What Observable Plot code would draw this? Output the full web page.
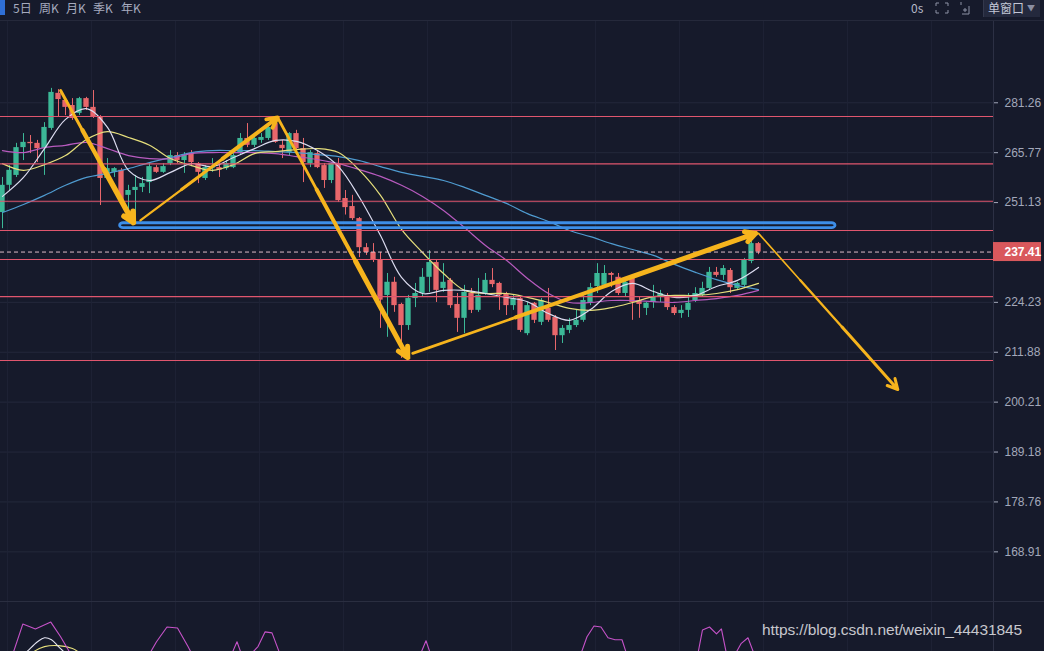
<!DOCTYPE html>
<html><head><meta charset="utf-8">
<script src="https://cdn.jsdelivr.net/npm/d3@7"></script>
<script src="https://cdn.jsdelivr.net/npm/@observablehq/plot@0.6"></script>
<style>
html,body{margin:0;padding:0;background:#161a2b;width:1044px;height:651px;overflow:hidden;}
#bar{position:relative;height:20px;border-bottom:1px solid #25293b;color:#a6abbf;font-size:12px;font-family:"Noto Sans CJK SC","Noto Sans",sans-serif;}
#bar .t{position:absolute;top:1px;line-height:14px;white-space:nowrap}
#bar .sel{position:absolute;left:0;top:0;width:5px;height:15px;background:#2f6fd6;overflow:hidden}
#bar .win{position:absolute;left:983px;top:0;width:57px;height:17px;background:#24293d;border-left:1px solid #33384c;color:#c3c7d6;font-size:12px;line-height:16px;padding-left:4px;box-sizing:border-box}
#bar .win span{font-size:8px;color:#8a8fa3;margin-left:3px;vertical-align:2px}
#main svg,#ind svg{display:block}
#ind{border-top:1px solid #2a2e40;position:relative}
#wm{position:absolute;left:762px;top:621px;font:15.5px "Liberation Sans",Arial,sans-serif;color:rgba(225,225,230,0.88);white-space:nowrap;letter-spacing:-0.1px}
</style></head>
<body>
<div id="bar">
  <div class="sel"></div>
  <span class="t" style="left:13px">5日</span>
  <span class="t" style="left:39px">周K</span>
  <span class="t" style="left:66px">月K</span>
  <span class="t" style="left:93px">季K</span>
  <span class="t" style="left:121px">年K</span>
  <span class="t" style="left:911px;color:#b5b9c8">0s</span>
  <svg style="position:absolute;left:935px;top:2px" width="14" height="12" viewBox="0 0 14 12" fill="none" stroke="#8d92a6" stroke-width="1">
    <path d="M1 1h3M1 1v3M13 1h-3M13 1v3M1 11h3M1 11v-3M13 11h-3M13 11v-3"/>
  </svg>
  <svg style="position:absolute;left:957px;top:1px" width="14" height="14" viewBox="0 0 14 14" fill="none" stroke="#8d92a6" stroke-width="1">
    <path d="M4 1v3M12 13H5M12 13V5M6 9h4M8 7v4"/>
  </svg>
  <div class="win">单窗口<span>▼</span></div>
</div>
<div id="main"></div>
<div id="ind"></div>
<div id="wm">https://blog.csdn.net/weixin_44431845</div>
<script>
// ---------- data ----------
const opens = [
 248.3,256.1,259.0,267.3,268.9,268.6,267.0,273.2,284.3,282.0,
 280.4,277.9,282.6,279.8,276.6,258.1,259.9,260.5,253.2,254.6,
 255.5,256.9,261.3,259.9,262.5,264.9,263.4,265.5,262.5,258.1,
 261.0,261.3,261.0,261.3,265.5,270.1,268.0,269.5,270.1,274.7,
 268.0,265.8,271.6,267.0,262.5,265.5,261.9,257.5,262.5,252.3,
 250.0,246.6,238.6,237.3,235.2,226.0,229.4,223.7,218.4,225.2,
 226.5,230.7,234.6,227.8,229.9,223.7,220.2,226.5,222.2,226.5,
 229.9,229.1,226.5,223.4,225.2,216.4,224.0,219.2,222.7,220.4,
 215.9,217.2,218.4,219.7,224.2,228.3,228.6,231.7,230.7,226.5,
 230.4,224.7,222.7,224.2,225.5,226.0,222.9,221.4,222.2,224.7,
 226.0,227.8,232.0,231.2,232.5,227.8,228.6,234.9,239.7];
const highs = [
 258.4,261.9,268.6,271.6,271.0,269.5,275.0,285.9,285.5,282.6,
 282.6,283.0,283.0,285.2,277.2,264.0,261.3,261.0,256.1,259.0,
 258.4,262.5,261.9,262.5,266.4,265.8,265.8,266.4,262.8,261.9,
 264.0,262.8,263.4,265.5,271.6,274.7,270.4,271.6,274.7,276.6,
 269.5,271.9,272.6,270.1,266.4,266.4,262.5,262.8,264.0,254.6,
 253.2,246.9,239.7,239.7,237.3,231.7,230.7,224.0,226.0,229.1,
 233.0,237.8,235.2,234.3,230.4,226.5,228.6,227.8,230.4,231.7,
 233.0,229.4,226.8,226.0,225.5,224.2,224.2,225.2,227.8,220.9,
 218.4,220.2,222.2,226.0,229.1,234.3,233.8,232.0,231.7,230.4,
 230.7,225.5,224.2,228.6,227.3,226.5,223.4,223.4,226.5,228.0,
 229.4,233.3,233.3,233.8,233.0,229.4,235.7,240.6,240.0];
const lows = [
 243.8,254.6,258.4,263.4,265.5,262.8,259.0,272.6,276.6,277.2,
 275.7,277.2,278.8,276.3,250.3,257.5,258.4,251.2,246.1,245.5,
 254.0,253.7,259.6,259.6,261.9,262.5,259.6,261.9,256.6,257.5,
 259.9,258.4,260.5,261.0,264.9,267.3,267.3,268.6,269.5,268.6,
 264.0,264.9,265.5,256.9,261.3,261.0,255.2,256.6,251.2,247.6,
 246.1,235.9,236.5,234.6,217.7,215.5,221.7,210.4,217.2,222.9,
 225.5,226.8,224.2,226.8,222.7,216.7,216.4,221.4,221.7,226.0,
 228.0,222.2,220.9,222.2,216.7,215.9,218.9,218.4,219.2,212.3,
 214.0,216.4,217.9,219.2,223.4,226.5,227.8,228.0,226.0,225.5,
 219.7,220.2,220.9,222.7,224.2,222.2,220.9,220.2,220.4,224.2,
 225.5,227.3,230.7,229.9,226.5,227.3,228.0,234.3,236.7];
const closes = [
 256.1,260.5,267.3,268.9,268.5,267.0,273.5,284.6,282.3,279.8,
 276.3,282.6,279.8,276.6,258.1,261.0,261.0,251.7,254.6,255.5,
 256.6,261.6,259.9,261.6,264.9,263.4,264.9,262.8,259.9,261.3,
 261.6,260.5,262.5,264.9,270.1,268.0,270.1,270.4,273.5,268.9,
 267.0,271.6,267.0,262.8,265.8,261.3,257.5,262.5,251.7,249.7,
 246.6,238.6,237.3,235.2,224.8,229.4,223.4,218.4,225.2,226.5,
 230.7,234.6,227.3,229.4,223.4,220.2,226.8,222.2,226.0,229.9,
 228.8,226.0,223.4,225.2,217.2,223.4,219.7,224.7,219.7,215.9,
 217.7,218.4,219.7,224.7,228.0,231.7,231.7,231.2,226.5,229.4,
 224.2,223.7,224.0,225.5,226.5,222.9,221.4,222.2,224.0,226.5,
 227.8,232.0,231.2,233.0,228.0,229.1,235.2,239.7,237.41];

// moving averages, read at every third candle
const maIdx = [0,3,6,9,12,15,18,21,24,27,30,33,36,39,42,45,48,51,54,57,60,63,66,69,72,75,78,81,84,87,90,93,96,99,102,105,108];
const ma5  = [252.9,258.4,267.0,276.0,279.4,273.5,260.5,257.5,259.9,262.5,261.6,264.3,267.0,269.5,269.2,266.4,261.6,252.6,241.9,230.7,226.5,227.3,227.3,226.5,225.5,224.4,221.4,219.7,222.4,227.0,229.1,227.0,225.5,226.0,228.3,229.9,233.3];
const ma10 = [262.5,260.5,262.2,264.9,269.8,272.2,270.4,268.0,264.0,261.9,260.5,262.2,265.5,266.1,266.7,267.0,265.8,260.5,253.2,243.6,237.3,231.7,227.3,226.5,226.5,225.5,224.2,222.7,222.2,222.9,224.2,225.7,226.0,226.0,226.5,227.5,229.1];
const ma20 = [266.4,265.8,267.3,268.0,268.9,267.0,264.9,264.0,264.0,265.5,265.8,265.8,265.8,265.5,264.6,263.7,262.5,260.7,258.7,256.1,252.9,248.9,244.1,239.2,235.2,230.4,226.5,224.2,224.2,224.7,224.7,224.4,224.2,224.7,225.2,226.0,227.3];
const ma60 = [248.3,250.6,253.2,256.1,258.4,259.6,261.0,262.8,264.3,265.8,266.4,266.4,266.4,266.1,265.8,265.2,264.6,263.4,261.6,259.9,258.7,257.5,255.5,253.2,250.9,248.0,245.8,243.3,241.6,239.7,238.1,236.5,234.1,232.0,230.1,228.6,227.5];

const yTicks = [281.26,265.77,251.13,224.23,211.88,200.21,189.18,178.76,168.91];
const lastPrice = 237.41;
const levels = [276.9,262.4,251.5,243.3,235.4,225.7,209.9];
const zoneIdx = [16.8,119.0];
const zonePrice = [243.96,245.3];
const arrowX1 = [8.3,19.7,39.3,58.6,108.0];
const arrowY1 = [285.2,246.1,276.6,211.6,242.5];
const arrowX2 = [18.7,39.3,57.9,107.6,127.9];
const arrowY2 = [245.5,276.6,210.6,242.5,203.1];
const arrowW  = [5.5,4,5,5,3];
const gridIdx = [0.7,12.7,24.7,36.7,48.7,60.7,72.7,84.7,96.7,108.7,120.7,132.7];

// lower indicator pane
const kIdx = [0,1.5,2.9,4,4.7,6.9,8.3,9.7,11, 20,22,23.5,25,26.5,28, 32,33.5,34.5,36.5,37.5,38.5,39.5,41, 59,60.5,61.5, 82,83.5,84.5,85.5,86.5,87.5,88.5,89.5, 99,100,101,102,102.7,103.5,104.5,105.5,106.5,107.5];
const kVal = [35,48,78,75,73,80,65,48,35, 35,60,75,74,55,35, 35,60,40,55,70,69,50,35, 35,61,40, 35,65,76,75,64,62,62,40, 35,72,75,68,73,45,45,58,64,45];
const dIdx = [2,3.5,5,6,7,8,9,10.5];
const dVal = [40,50,60,64,62,55,48,35];
const jIdx = [3,4.5,6,8,10,11.5,13];
const jVal = [40,50,55,56,53,46,35];

// ---------- build ----------
const GREEN = "#3cb897", RED = "#e8676b";
const xDom = [-2/7, 991/7];
const candles = opens.map((o, i) => ({i, open: o, high: highs[i], low: lows[i], close: closes[i]}));
const col = d => d.close >= d.open ? GREEN : RED;
const maRows = vals => maIdx.map((i, k) => ({i, v: vals[k]}));
const rows = (xs, vs) => xs.map((i, k) => ({i, v: vs[k]}));

// tapered arrows: shaft split in pieces of growing width, head on the last piece
const arrowMarks = [];
arrowX1.forEach((x1, k) => {
  const y1 = arrowY1[k], x2 = arrowX2[k], y2 = arrowY2[k], w = arrowW[k];
  const at = t => ({x: x1 + (x2 - x1) * t, y: Math.exp(Math.log(y1) + (Math.log(y2) - Math.log(y1)) * t)});
  const cuts = [0, 0.3, 0.6, 1];
  const ws = [w * 0.55, w * 0.78, w];
  for (let s = 0; s < 3; s++) {
    const a = at(cuts[s]), b = at(cuts[s + 1]);
    const seg = [{x1: a.x, y1: a.y, x2: b.x, y2: b.y}];
    if (s < 2) {
      arrowMarks.push(Plot.link(seg, {x1: "x1", y1: "y1", x2: "x2", y2: "y2", stroke: "#f6b41d", strokeWidth: ws[s], strokeLinecap: "round"}));
    } else {
      arrowMarks.push(Plot.arrow(seg, {x1: "x1", y1: "y1", x2: "x2", y2: "y2", stroke: "#f6b41d", strokeWidth: ws[s], headLength: 17 / ws[s], headAngle: 55, strokeLinejoin: "miter"}));
    }
  }
});

const main = Plot.plot({
  width: 1044, height: 580,
  marginTop: 0, marginBottom: 0, marginLeft: 0, marginRight: 51,
  x: {domain: xDom, axis: null},
  y: {type: "log", domain: [159.65, 308.46], axis: null},
  style: {background: "transparent", color: "#a3a8ba", fontFamily: "'Liberation Sans', Arial, sans-serif", fontSize: "12px", overflow: "visible"},
  marks: [
    Plot.ruleY(yTicks, {stroke: "#24283b", strokeWidth: 1}),
    Plot.ruleX(gridIdx, {stroke: "#1f2336", strokeWidth: 1}),
    Plot.ruleX(candles, {x: "i", y1: "low", y2: "high", stroke: col, strokeWidth: 1}),
    Plot.rect(candles, {x1: d => d.i - 0.38, x2: d => d.i + 0.38, y1: "open", y2: "close", fill: col}),
    Plot.line(maRows(ma60), {x: "i", y: "v", stroke: "#4f9bd0", strokeWidth: 1.2, curve: "catmull-rom"}),
    Plot.line(maRows(ma20), {x: "i", y: "v", stroke: "#b85bbf", strokeWidth: 1.2, curve: "catmull-rom"}),
    Plot.line(maRows(ma10), {x: "i", y: "v", stroke: "#e6df7c", strokeWidth: 1.2, curve: "catmull-rom"}),
    Plot.line(maRows(ma5),  {x: "i", y: "v", stroke: "#dcdcf0", strokeWidth: 1.2, curve: "catmull-rom"}),
    Plot.ruleY(levels, {stroke: "#e0566e", strokeWidth: 1.1}),
    Plot.ruleY([lastPrice], {stroke: "#dcbcc8", strokeWidth: 1, strokeDasharray: "4,3"}),
    Plot.rect([0], {x1: () => zoneIdx[0], x2: () => zoneIdx[1], y1: () => zonePrice[0], y2: () => zonePrice[1], rx: 3.5, fill: "none", stroke: "#3d8ee8", strokeWidth: 2.8}),
    ...arrowMarks,
    Plot.ruleX([xDom[1]], {stroke: "#2c3044"}),
    Plot.axisY(yTicks, {anchor: "right", tickSize: 4, tickPadding: 7, tickFormat: d => d.toFixed(2), color: "#a3a8ba", fontSize: 12}),
    Plot.rect([lastPrice], {x1: () => xDom[1], x2: () => xDom[1], y1: d => d, y2: d => d, insetRight: -48, insetTop: -9.5, insetBottom: -9.5, fill: "#d9585c"}),
    Plot.text([lastPrice], {x: () => xDom[1], y: d => d, text: d => d.toFixed(2), dx: 11, textAnchor: "start", fill: "#ffffff", fontWeight: "bold", fontSize: 12})
  ]
});
document.getElementById("main").appendChild(main);

const ind = Plot.plot({
  width: 1044, height: 49,
  marginTop: 0, marginBottom: 0, marginLeft: 0, marginRight: 51,
  x: {domain: xDom, axis: null},
  y: {domain: [50, 100], axis: null},
  style: {background: "transparent", overflow: "hidden"},
  marks: [
    Plot.ruleX(gridIdx, {stroke: "#1f2336"}),
    Plot.line(rows(jIdx, jVal), {x: "i", y: "v", stroke: "#e6df7c", strokeWidth: 1.1, curve: "catmull-rom", clip: true}),
    Plot.line(rows(dIdx, dVal), {x: "i", y: "v", stroke: "#e4e4f2", strokeWidth: 1.1, curve: "catmull-rom", clip: true}),
    Plot.line(rows(kIdx, kVal), {x: "i", y: "v", stroke: "#c653c9", strokeWidth: 1.1, clip: true}),
    Plot.ruleX([xDom[1]], {stroke: "#2c3044"})
  ]
});
document.getElementById("ind").appendChild(ind);
</script>
</body></html>
